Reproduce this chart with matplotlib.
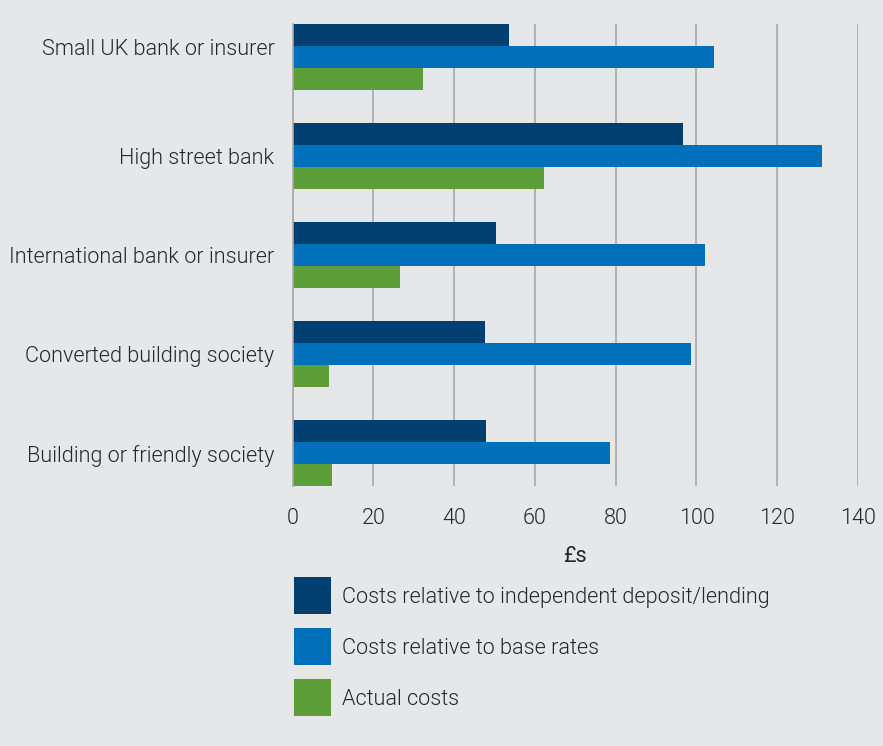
import numpy as np
import matplotlib.pyplot as plt
from matplotlib.patches import Patch
from matplotlib.transforms import ScaledTranslation

# Cost per customer, in £s
categories = [
    "Small UK bank or insurer",
    "High street bank",
    "International bank or insurer",
    "Converted building society",
    "Building or friendly society",
]
independent = [53.7, 96.6, 50.4, 47.6, 47.8]
base_rates = [104.3, 131.1, 102.2, 98.6, 78.5]
actual = [32.2, 62.3, 26.7, 9.0, 9.8]

series_labels = [
    "Costs relative to independent deposit/lending",
    "Costs relative to base rates",
    "Actual costs",
]
colors = ["#003f70", "#0070bb", "#5c9f38"]
bg = "#e6e7e9"
text_color = "#262626"
fs = 15.6

plt.rcParams["font.family"] = ["Roboto", "DejaVu Sans"]
plt.rcParams["font.weight"] = 300

fig = plt.figure(figsize=(8.83, 7.46), dpi=100, facecolor=bg)
ax = fig.add_axes([0.3314, 0.3485, 0.6403, 0.6193], facecolor=bg)

y = np.arange(len(categories))
h = 0.222
for i, vals in enumerate([independent, base_rates, actual]):
    ax.barh(y + (i - 1) * h, vals, height=h, color=colors[i],
            label=series_labels[i], zorder=3)

ax.set_ylim(len(categories) - 1 + 0.333, -0.333)
ax.set_xlim(0, 140)
ax.set_xticks(range(0, 141, 20))
ax.set_yticks(y)
ax.set_yticklabels(categories)

ax.grid(axis="x", color="#a8a9ab", linewidth=1.2, zorder=0)
for side in ["top", "right", "bottom"]:
    ax.spines[side].set_visible(False)
ax.spines["left"].set_color("#a8a9ab")
ax.spines["left"].set_linewidth(1.2)
ax.spines["left"].set_zorder(4)

ax.tick_params(axis="y", length=0, pad=13, labelsize=fs, labelcolor=text_color)
ax.tick_params(axis="x", length=0, pad=16, labelsize=fs, labelcolor=text_color)
ax.set_xlabel("£s", fontsize=fs, color=text_color, labelpad=12)

# top category label sits a little above its bar group
first = ax.get_yticklabels()[0]
first.set_transform(first.get_transform()
                    + ScaledTranslation(0, 0.1, fig.dpi_scale_trans))

# legend squares: 37px on a side, rows about 51px apart
handles = [Patch(facecolor=c, edgecolor="none") for c in colors]
fig.legend(handles, series_labels, loc="upper left",
           bbox_to_anchor=(290 / 883, 1 - 573 / 746),
           frameon=False, fontsize=fs, labelcolor=text_color,
           handlelength=1.705, handleheight=2.246, handletextpad=0.48,
           labelspacing=0.65, borderaxespad=0, borderpad=0.2)

fig.savefig("out.png", dpi=100, facecolor=bg)
